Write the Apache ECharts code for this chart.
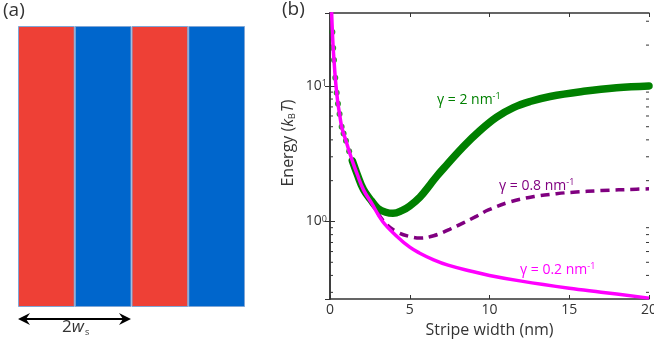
<!DOCTYPE html>
<html>
<head>
<meta charset="utf-8">
<script src="https://cdn.jsdelivr.net/npm/echarts@6/dist/echarts.min.js"></script>
<style>
  html, body { margin: 0; padding: 0; background: #fff; }
  #main { width: 654px; height: 351px; }
</style>
</head>
<body>
<div id="main"></div>
<script>
// panel (a): stripes
const stripeCats = ['s1', 's2', 's3', 's4']
const stripeVals = [1, 1, 1, 1]

// panel (b): energy (kBT) vs stripe width (nm)
const widthG02 = [0.1, 0.15, 0.2, 0.25, 0.33, 0.42, 0.5, 0.6, 0.73, 0.85, 1.0, 1.2, 1.4, 1.7, 2.1, 2.6, 3.3, 4.2, 5.0, 5.6, 6.5, 7.4, 8.8, 10, 12, 15, 17, 20]
const energyG02 = [35, 25, 19, 15.5, 11.5, 8.9, 7.4, 6.2, 5.0, 4.45, 3.94, 3.3, 2.8, 2.24, 1.71, 1.37, 1.0, 0.776, 0.646, 0.586, 0.521, 0.476, 0.431, 0.40, 0.363, 0.322, 0.301, 0.272]

const widthG08 = [3.0, 3.55, 4.18, 4.9, 5.64, 6.5, 7.5, 8.36, 9.2, 9.93, 11.3, 12.85, 14.2, 15.25, 17, 19.2, 20]
const energyG08 = [1.15, 0.95, 0.84, 0.78, 0.754, 0.785, 0.875, 0.977, 1.096, 1.216, 1.396, 1.531, 1.603, 1.644, 1.69, 1.73, 1.742]

const widthG2 = [0.1, 0.15, 0.2, 0.25, 0.33, 0.42, 0.5, 0.6, 0.73, 0.85, 1.0, 1.2, 1.4, 1.7, 2.1, 2.6, 3.0, 3.5, 3.95, 4.5, 5.0, 5.64, 6.27, 6.7, 7.3, 8.36, 9.4, 10.45, 11.5, 12.54, 13.8, 15.9, 17.97, 20]
const energyG2 = [35, 25, 19, 15.5, 11.5, 8.9, 7.4, 6.2, 5.0, 4.45, 3.94, 3.3, 2.8, 2.24, 1.72, 1.42, 1.25, 1.17, 1.148, 1.202, 1.303, 1.514, 1.862, 2.163, 2.60, 3.57, 4.68, 5.89, 6.92, 7.67, 8.36, 9.12, 9.70, 10.0]

const xTicks = [0, 5, 10, 15, 20]
const minorTicks = [0.3, 0.4, 0.5, 0.6, 0.7, 0.8, 0.9, 2, 3, 4, 5, 6, 7, 8, 9, 20, 30]

const FONT = 'Open Sans'
const TXT = '#333'
const GREEN = '#008000'
const PURPLE = '#800080'
const MAGENTA = '#ff00ff'
const pairs = (xs, ys) => xs.map((x, i) => [x, ys[i]])

// the steep start of the γ=2 curve shows up only as separate dots
const g2Split = widthG2.indexOf(1.4)
const g2All = pairs(widthG2, energyG2)

const chart = echarts.init(document.getElementById('main'))

const supRich = (c) => ({ sup: { fontSize: 9, verticalAlign: 'top', padding: [0, 0, 7, 0], fill: c, fontFamily: FONT } })

const option = {
  animation: false,
  backgroundColor: '#fff',
  textStyle: { fontFamily: FONT },
  grid: [
    { left: 330, right: 5, top: 13, bottom: 52, outerBoundsMode: 'none' },
    { left: 18, top: 26, width: 227, height: 281, outerBoundsMode: 'none' },
  ],
  xAxis: [
    {
      type: 'value',
      gridIndex: 0,
      min: xTicks[0],
      max: xTicks[xTicks.length - 1],
      interval: 5,
      name: 'Stripe width (nm)',
      nameLocation: 'middle',
      nameGap: 23,
      nameTextStyle: { fontSize: 16, color: TXT, fontFamily: FONT },
      axisLine: { lineStyle: { color: '#333', width: 1.5 } },
      axisTick: { inside: true, length: 4, lineStyle: { color: '#333' } },
      axisLabel: { fontSize: 14, color: TXT, margin: 4, fontFamily: FONT },
      splitLine: { show: false },
    },
    {
      type: 'value',
      gridIndex: 0,
      position: 'top',
      min: xTicks[0],
      max: xTicks[xTicks.length - 1],
      interval: 5,
      axisLine: { lineStyle: { color: '#333', width: 1.5 } },
      axisTick: { inside: true, length: 4, lineStyle: { color: '#333' } },
      axisLabel: { show: false },
      splitLine: { show: false },
    },
    {
      type: 'category',
      gridIndex: 1,
      data: stripeCats,
      show: false,
    },
  ],
  yAxis: [
    {
      type: 'log',
      logBase: 10,
      gridIndex: 0,
      min: 0.268,
      max: 34.5,
      axisLine: { lineStyle: { color: '#333', width: 1.5 } },
      axisTick: { inside: true, length: 5, lineStyle: { color: '#333' } },
      axisLabel: {
        showMinLabel: false,
        showMaxLabel: false,
        margin: 3,
        color: TXT,
        fontSize: 14,
        fontFamily: FONT,
        formatter: (v) => {
          const p = Math.round(Math.log10(v))
          if (Math.abs(Math.log10(v) - p) > 1e-6) return ''
          return '10{sup|' + p + '}'
        },
        rich: {
          sup: { fontSize: 9, verticalAlign: 'top', lineHeight: 14, padding: [0, 0, 6, 0], color: TXT, fontFamily: FONT },
        },
      },
      splitLine: { show: false },
    },
    {
      type: 'log',
      logBase: 10,
      gridIndex: 0,
      position: 'right',
      min: 0.268,
      max: 34.5,
      axisLine: { lineStyle: { color: '#333', width: 1.5 } },
      axisTick: { inside: true, length: 5, lineStyle: { color: '#333' } },
      axisLabel: { show: false },
      splitLine: { show: false },
    },
    {
      type: 'value',
      gridIndex: 1,
      min: 0,
      max: 1,
      show: false,
    },
  ],
  series: [
    {
      name: 'stripes',
      type: 'bar',
      xAxisIndex: 2,
      yAxisIndex: 2,
      data: stripeVals,
      barWidth: '100%',
      barCategoryGap: 0,
      itemStyle: {
        color: (p) => (p.dataIndex % 2 === 0 ? '#ee4036' : '#0066cc'),
        borderColor: '#7fa6d6',
        borderWidth: 1,
      },
      silent: true,
    },
    {
      name: 'minor ticks',
      type: 'custom',
      xAxisIndex: 0,
      yAxisIndex: 0,
      data: minorTicks.map((v) => [0, v]),
      renderItem: (params, api) => {
        const v = api.value(1)
        const a = api.coord([xTicks[0], v])
        const b = api.coord([xTicks[xTicks.length - 1], v])
        return {
          type: 'group',
          children: [
            { type: 'line', shape: { x1: a[0], y1: a[1], x2: a[0] + 3, y2: a[1] }, style: { stroke: '#333', lineWidth: 1 } },
            { type: 'line', shape: { x1: b[0], y1: b[1], x2: b[0] - 3, y2: b[1] }, style: { stroke: '#333', lineWidth: 1 } },
          ],
        }
      },
      silent: true,
      z: 1,
    },
    {
      name: 'γ = 2 (dots)',
      type: 'scatter',
      xAxisIndex: 0,
      yAxisIndex: 0,
      data: g2All.slice(0, g2Split),
      symbol: 'circle',
      symbolSize: 6,
      itemStyle: { color: GREEN },
      z: 2,
    },
    {
      name: 'γ = 2',
      type: 'line',
      xAxisIndex: 0,
      yAxisIndex: 0,
      data: g2All.slice(g2Split),
      smooth: 0.4,
      showSymbol: false,
      lineStyle: { color: GREEN, width: 7.5, cap: 'round' },
      z: 2,
    },
    {
      name: 'γ = 0.8',
      type: 'line',
      xAxisIndex: 0,
      yAxisIndex: 0,
      data: pairs(widthG08, energyG08),
      smooth: 0.4,
      showSymbol: false,
      lineStyle: { color: PURPLE, width: 3.5, type: [9, 6] },
      z: 3,
    },
    {
      name: 'γ = 0.2',
      type: 'line',
      xAxisIndex: 0,
      yAxisIndex: 0,
      data: pairs(widthG02, energyG02),
      smooth: 0.4,
      showSymbol: false,
      lineStyle: { color: MAGENTA, width: 3.5 },
      z: 4,
    },
  ],
  graphic: [
    { type: 'text', left: 3, top: 1, style: { text: '(a)', fontSize: 19, fill: TXT, fontFamily: FONT } },
    { type: 'text', left: 282, top: 0, style: { text: '(b)', fontSize: 19, fill: TXT, fontFamily: FONT } },
    // double arrow under the stripes
    { type: 'line', shape: { x1: 24, y1: 319, x2: 125, y2: 319 }, style: { stroke: '#000', lineWidth: 2 } },
    { type: 'polygon', shape: { points: [[18, 319], [30, 313], [26, 319], [30, 325]] }, style: { fill: '#000' } },
    { type: 'polygon', shape: { points: [[131, 319], [119, 313], [123, 319], [119, 325]] }, style: { fill: '#000' } },
    {
      type: 'text', x: 62, y: 318,
      style: {
        text: '2{i|w}{sub|s}', fontSize: 17, fill: TXT, fontFamily: FONT,
        rich: {
          i: { fontSize: 17, fontStyle: 'italic', fill: TXT, fontFamily: FONT },
          sub: { fontSize: 9, verticalAlign: 'bottom', padding: [10, 0, 0, 1], fill: TXT, fontFamily: FONT },
        },
      },
    },
    {
      type: 'text', x: 288, y: 143, rotation: Math.PI / 2,
      style: {
        text: 'Energy ({i|k}{sub|B}{i|T})', fontSize: 16, fill: TXT, fontFamily: FONT,
        align: 'center', verticalAlign: 'middle',
        rich: {
          i: { fontSize: 16, fontStyle: 'italic', fill: TXT, fontFamily: FONT },
          sub: { fontSize: 9, verticalAlign: 'bottom', padding: [8, 1, 0, 0], fill: TXT, fontFamily: FONT },
        },
      },
    },
    { type: 'text', x: 437, y: 92, style: { text: 'γ = 2 nm{sup|-1}', fontSize: 14, fill: GREEN, fontFamily: FONT, rich: supRich(GREEN) } },
    { type: 'text', x: 499, y: 178, style: { text: 'γ = 0.8 nm{sup|-1}', fontSize: 14, fill: PURPLE, fontFamily: FONT, rich: supRich(PURPLE) } },
    { type: 'text', x: 520, y: 262, style: { text: 'γ = 0.2 nm{sup|-1}', fontSize: 14, fill: MAGENTA, fontFamily: FONT, rich: supRich(MAGENTA) } },
  ],
}

chart.setOption(option)
</script>
</body>
</html>
